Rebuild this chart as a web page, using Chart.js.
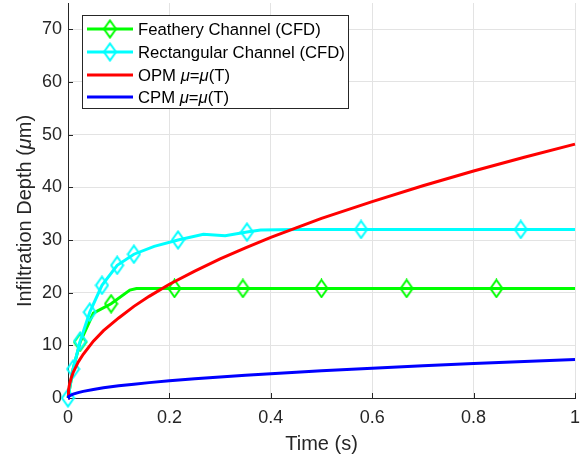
<!DOCTYPE html>
<html>
<head>
<meta charset="utf-8">
<script src="https://cdn.jsdelivr.net/npm/chart.js@4.4.1/dist/chart.umd.min.js"></script>
<style>
    html, body { margin: 0; padding: 0; background: #fff; }
    #wrap { width: 582px; height: 459px; position: relative; }
</style>
</head>
<body>
<div id="wrap"><canvas id="depthChart"></canvas></div>
<script>
// ---- data ----
const xTicks = [0, 0.2, 0.4, 0.6, 0.8, 1];
const yTicks = [0, 10, 20, 30, 40, 50, 60, 70];

const featheryTime  = [0, 0.01, 0.024, 0.05, 0.085, 0.122, 0.135, 0.21, 0.345, 0.5, 0.668, 0.845, 1.0];
const featheryDepth = [0, 5.5, 10.6, 16.1, 17.9, 20.5, 20.8, 20.8, 20.8, 20.8, 20.8, 20.8, 20.8];
const featheryMarks = [2, 4, 7, 8, 9, 10, 11];

const rectTime  = [0, 0.01, 0.024, 0.043, 0.067, 0.097, 0.13, 0.17, 0.217, 0.267, 0.31, 0.353, 0.38, 0.45, 0.578, 0.7, 0.893, 1.0];
const rectDepth = [0, 5.5, 10.8, 16.3, 21.4, 25.2, 27.3, 28.8, 30.0, 31.1, 30.8, 31.5, 31.9, 32.0, 32.0, 32.0, 32.0, 32.0];
const rectMarks = [0, 1, 2, 3, 4, 5, 6, 8, 11, 14, 16];

const modelTime = [0, 0.001, 0.003, 0.006, 0.01, 0.02, 0.03, 0.05, 0.07, 0.1, 0.13, 0.16, 0.2, 0.25, 0.3, 0.35, 0.4, 0.45, 0.5, 0.6, 0.7, 0.8, 0.9, 1.0];
const opmDepth  = [0, 1.5, 2.6, 3.7, 4.8, 6.8, 8.3, 10.8, 12.8, 15.2, 17.4, 19.3, 21.6, 24.1, 26.4, 28.5, 30.5, 32.3, 34.1, 37.3, 40.3, 43.1, 45.7, 48.2];
const cpmDepth  = [0, 0.23, 0.4, 0.57, 0.73, 1.03, 1.26, 1.63, 1.93, 2.31, 2.63, 2.92, 3.26, 3.65, 4.0, 4.32, 4.62, 4.9, 5.16, 5.65, 6.11, 6.53, 6.93, 7.3];

const GREEN = "#00ff00", CYAN = "#00ffff", RED = "#ff0000", BLUE = "#0000ff";
const AXIS = "#262626";
const FONT = "'Liberation Sans', Arial, Helvetica, sans-serif";

function pairs(xs, ys) {
    return xs.map((x, i) => ({ x: x, y: ys[i] }));
}

function markerRadii(n, marks) {
    const r = new Array(n).fill(0);
    marks.forEach(i => { r[i] = 6; });
    return r;
}

// MATLAB-like hollow diamond marker
function diamond(color) {
    const c = document.createElement("canvas");
    c.width = 15;
    c.height = 20;
    const g = c.getContext("2d");
    g.strokeStyle = color;
    g.lineWidth = 2;
    g.beginPath();
    g.moveTo(7.5, 1.5);
    g.lineTo(13.5, 10);
    g.lineTo(7.5, 18.5);
    g.lineTo(1.5, 10);
    g.closePath();
    g.stroke();
    return c;
}

const greenDiamond = diamond(GREEN);
const cyanDiamond = diamond(CYAN);

// draws text pieces, some italic, left to right
function drawRich(ctx, parts, x, y, size) {
    let cx = x;
    parts.forEach(p => {
        ctx.font = (p.italic ? "italic " : "") + size + "px " + FONT;
        ctx.fillText(p.text, cx, y);
        cx += ctx.measureText(p.text).width;
    });
    return cx - x;
}

function richWidth(ctx, parts, size) {
    let w = 0;
    parts.forEach(p => {
        ctx.font = (p.italic ? "italic " : "") + size + "px " + FONT;
        w += ctx.measureText(p.text).width;
    });
    return w;
}

const legendRows = [
    { color: GREEN, marker: greenDiamond, parts: [{ text: "Feathery Channel (CFD)" }] },
    { color: CYAN, marker: cyanDiamond, parts: [{ text: "Rectangular Channel (CFD)" }] },
    { color: RED, marker: null, parts: [{ text: "OPM " }, { text: "\u03bc", italic: true }, { text: "=" }, { text: "\u03bc", italic: true }, { text: "(T)" }] },
    { color: BLUE, marker: null, parts: [{ text: "CPM " }, { text: "\u03bc", italic: true }, { text: "=" }, { text: "\u03bc", italic: true }, { text: "(T)" }] },
];

const decorPlugin = {
    id: "decor",
    beforeDatasetsDraw(chart) {
        // inward tick marks
        const ctx = chart.ctx;
        const xs = chart.scales.x, ys = chart.scales.y;
        const a = chart.chartArea;
        ctx.save();
        ctx.strokeStyle = AXIS;
        ctx.lineWidth = 1;
        ctx.beginPath();
        xTicks.forEach(v => {
            const px = Math.round(xs.getPixelForValue(v)) + 0.5;
            ctx.moveTo(px, a.bottom);
            ctx.lineTo(px, a.bottom - 5);
        });
        yTicks.forEach(v => {
            const py = Math.round(ys.getPixelForValue(v)) + 0.5;
            ctx.moveTo(a.left, py);
            ctx.lineTo(a.left + 5, py);
        });
        ctx.stroke();
        ctx.restore();
    },
    afterDraw(chart) {
        const ctx = chart.ctx;
        const a = chart.chartArea;
        ctx.save();

        // axis titles
        ctx.fillStyle = AXIS;
        ctx.textBaseline = "middle";
        ctx.font = "20px " + FONT;
        ctx.textAlign = "center";
        ctx.fillText("Time (s)", (a.left + a.right) / 2, 444);

        const yTitle = [{ text: "Infiltration Depth (" }, { text: "\u03bc", italic: true }, { text: "m)" }];
        ctx.textAlign = "left";
        ctx.translate(25, 211);
        ctx.rotate(-Math.PI / 2);
        const w = richWidth(ctx, yTitle, 20);
        drawRich(ctx, yTitle, -w / 2, 0, 20);
        ctx.setTransform(1, 0, 0, 1, 0, 0);

        // legend box
        const bx = 82.5, by = 15.5, bw = 266, bh = 93;
        ctx.fillStyle = "#ffffff";
        ctx.fillRect(bx, by, bw, bh);
        ctx.strokeStyle = AXIS;
        ctx.lineWidth = 1;
        ctx.strokeRect(bx, by, bw, bh);

        const rowY = [29, 52, 75, 97];
        legendRows.forEach((row, i) => {
            const y = rowY[i];
            ctx.strokeStyle = row.color;
            ctx.lineWidth = 3;
            ctx.beginPath();
            ctx.moveTo(87, y);
            ctx.lineTo(133, y);
            ctx.stroke();
            if (row.marker) {
                ctx.drawImage(row.marker, 110 - row.marker.width / 2, y - row.marker.height / 2);
            }
            ctx.fillStyle = "#000000";
            ctx.textBaseline = "middle";
            drawRich(ctx, row.parts, 138, y + 1, 16.7);
        });
        ctx.restore();
    }
};

function lineSet(label, xs, ys, color, marks, marker, order) {
    return {
        label: label,
        data: pairs(xs, ys),
        borderColor: color,
        backgroundColor: color,
        borderWidth: 3,
        pointRadius: marks ? markerRadii(xs.length, marks) : 0,
        pointStyle: marker || "circle",
        pointHoverRadius: 0,
        tension: 0,
        clip: false,
        order: order,
    };
}

new Chart(document.getElementById("depthChart"), {
    type: "line",
    data: {
        datasets: [
            lineSet("Feathery Channel (CFD)", featheryTime, featheryDepth, GREEN, featheryMarks, greenDiamond, 4),
            lineSet("Rectangular Channel (CFD)", rectTime, rectDepth, CYAN, rectMarks, cyanDiamond, 3),
            lineSet("OPM \u03bc=\u03bc(T)", modelTime, opmDepth, RED, null, null, 2),
            lineSet("CPM \u03bc=\u03bc(T)", modelTime, cpmDepth, BLUE, null, null, 1),
        ],
    },
    options: {
        responsive: true,
        maintainAspectRatio: false,
        animation: false,
        events: [],
        layout: { autoPadding: false, padding: { top: 3, right: 7, left: 0, bottom: 0 } },
        plugins: {
            legend: { display: false },
            tooltip: { enabled: false },
        },
        scales: {
            x: {
                type: "linear",
                min: 0,
                max: 1,
                afterBuildTicks: scale => { scale.ticks = xTicks.map(v => ({ value: v })); },
                afterFit: scale => {
                    scale.height = 61;
                    scale.paddingLeft = 0;
                    scale.paddingRight = 0;
                },
                ticks: {
                    color: AXIS,
                    font: { family: FONT, size: 18 },
                    padding: 9,
                    maxRotation: 0,
                    callback: v => String(v),
                },
                grid: { color: "#e3e3e3", drawTicks: false },
                border: { color: AXIS, width: 1 },
            },
            y: {
                min: 0,
                max: 75,
                afterBuildTicks: scale => { scale.ticks = yTicks.map(v => ({ value: v })); },
                afterFit: scale => {
                    scale.width = 68;
                    scale.paddingTop = 0;
                    scale.paddingBottom = 0;
                },
                ticks: {
                    color: AXIS,
                    font: { family: FONT, size: 18 },
                    padding: 6,
                },
                grid: { color: "#e3e3e3", drawTicks: false },
                border: { color: AXIS, width: 1 },
            },
        },
    },
    plugins: [decorPlugin],
});
</script>
</body>
</html>
